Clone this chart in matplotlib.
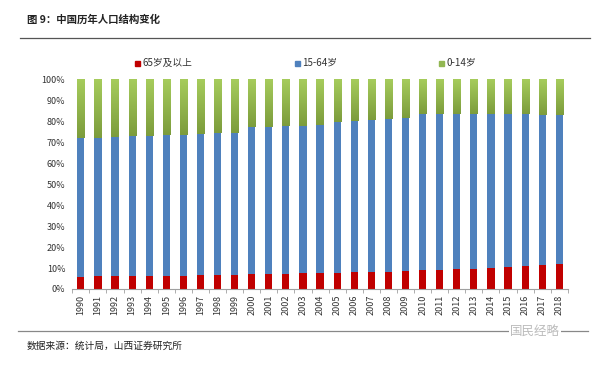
import matplotlib
matplotlib.use("Agg")
import matplotlib.pyplot as plt
import numpy as np
from matplotlib.colors import LinearSegmentedColormap

plt.rcParams['font.family'] = ['Noto Sans CJK SC', 'DejaVu Sans']

years = [str(y) for y in range(1990, 2019)]
age65 = [5.6, 6.0, 6.2, 6.2, 6.4, 6.2, 6.4, 6.5, 6.7, 6.9, 7.0, 7.1, 7.3, 7.5, 7.6,
         7.7, 7.9, 8.1, 8.3, 8.5, 8.9, 9.1, 9.4, 9.7, 10.1, 10.5, 10.8, 11.4, 11.9]
age0_14 = [27.7, 27.7, 27.6, 27.2, 26.8, 26.6, 26.4, 26.0, 25.7, 25.4, 22.9, 22.5, 22.4,
           22.1, 21.5, 20.3, 19.8, 19.4, 19.0, 18.5, 16.6, 16.5, 16.5, 16.4, 16.5, 16.5,
           16.7, 16.8, 16.9]
age15_64 = [round(100 - a - b, 1) for a, b in zip(age65, age0_14)]
yticks = [0, 10, 20, 30, 40, 50, 60, 70, 80, 90, 100]
labels = ['65岁及以上', '15-64岁', '0-14岁']

fig = plt.figure(figsize=(5.99, 3.66), dpi=100)
ax = fig.add_axes([0.1207, 0.2104, 0.948 - 0.1207, 0.7828 - 0.2104])

x = np.arange(len(years))
w = 0.42
red, blue = '#C00000', '#4F81BD'
b1 = ax.bar(x, age65, w, color=red)
b2 = ax.bar(x, age15_64, w, bottom=age65, color=blue)
bottoms = [a + b for a, b in zip(age65, age15_64)]
b3 = ax.bar(x, age0_14, w, bottom=bottoms, color='#92B752')

cmap = LinearSegmentedColormap.from_list('g', ['#7C9C3C', '#A6CC5C'])
grad = np.linspace(0, 1, 64).reshape(-1, 1)
for p in b3.patches:
    x0, y0 = p.get_x(), p.get_y()
    im = ax.imshow(grad, extent=[x0, x0 + p.get_width(), y0, y0 + p.get_height()],
                   origin='lower', aspect='auto', cmap=cmap, zorder=p.get_zorder() + 0.1)
    im.set_clip_path(p)

ax.set_xlim(-0.5, len(years) - 0.5)
ax.set_ylim(0, 100)
ax.set_yticks(yticks)
ax.set_yticklabels([f'{v}%' for v in yticks], fontsize=6.5, color='#333333')
ax.set_xticks(x)
ax.set_xticklabels(years, rotation=90, fontsize=6.5, color='#333333')
ax.set_xticks(np.arange(-0.5, len(years)), minor=True)
ax.tick_params(axis='x', which='major', length=0, pad=4)
ax.tick_params(axis='x', which='minor', length=3, color='#A0A0A0', width=0.6)
ax.tick_params(axis='y', length=0, pad=5)
for s in ['top', 'right', 'left']:
    ax.spines[s].set_visible(False)
ax.spines['bottom'].set_color('#A0A0A0')
ax.spines['bottom'].set_linewidth(0.8)

# title and rules
fig.text(27 / 599, 1 - 20 / 366, '图 9：中国历年人口结构变化', fontsize=7.5, fontweight='bold',
         color='#222222', va='center', ha='left')
fig.add_artist(plt.Line2D([20 / 599, 590 / 599], [1 - 38 / 366, 1 - 38 / 366],
                          color='#555555', lw=0.9))
fig.add_artist(plt.Line2D([18 / 599, 588 / 599], [1 - 331 / 366, 1 - 331 / 366],
                          color='#888888', lw=0.9))
fig.text(27 / 599, 1 - 346 / 366, '数据来源：统计局，山西证券研究所', fontsize=7,
         color='#222222', va='center', ha='left')
fig.text(510 / 599, 1 - 331 / 366, '国民经略', fontsize=9, color='#BBBBBB', va='center',
         ha='left', bbox=dict(facecolor='white', edgecolor='none', pad=1))

# legend
handles = [plt.Rectangle((0, 0), 1, 1, color=c) for c in [red, blue, '#92B752']]
legx = [137, 297, 441]
for h_x, lab, c in zip(legx, labels, [red, blue, '#92B752']):
    fig.patches.append(plt.Rectangle((h_x / 599 - 0.004, 1 - 66 / 366), 0.009, 0.0145,
                                     transform=fig.transFigure, color=c))
    fig.text(h_x / 599 + 0.009, 1 - 63 / 366, lab, fontsize=7, color='#333333',
             va='center', ha='left')

fig.savefig('out.png', dpi=100)
